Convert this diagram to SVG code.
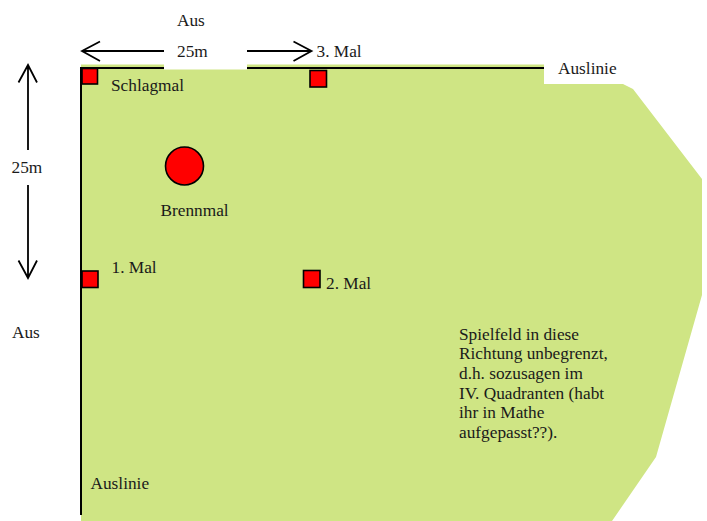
<svg xmlns="http://www.w3.org/2000/svg" width="707" height="521" viewBox="0 0 707 521">
<style>
text{font-family:"Liberation Serif","Times New Roman",serif;font-size:17.3px;fill:#1a1a1a}
.mal{fill:#ff0000;stroke:#000;stroke-width:1.6}
.line{stroke:#000;stroke-width:2;fill:none}
.arr{stroke:#000;stroke-width:1.8;fill:none}
</style>
<rect width="707" height="521" fill="#fff"/>
<g id="field">
<polygon points="81,64.5 544,64.5 544,84 623,84 633,89 702,179 702,295 656,457 612,521 81,521" fill="#cfe584"/>
<line class="line" x1="80" y1="68" x2="544" y2="68"/>
<line class="line" x1="81" y1="67" x2="81" y2="515"/>
<rect x="164" y="38" width="83" height="31.5" fill="#fff"/>
<text x="90.5" y="489">Auslinie</text>
<text x="558" y="74">Auslinie</text>
</g>
<g id="connectors">
<path class="arr" d="M82,51 H164 M247,51 H311.5 M100,41.5 L82,51 L100,61 M293.5,41.5 L311.5,51 L293.5,61"/>
<path class="arr" d="M28,65 V150 M28,185 V278 M18.5,82.5 L28,65 L37,82.5 M18.5,260.5 L28,278 L37,260.5"/>
</g>
<text x="177" y="26">Aus</text>
<text x="177" y="57">25m</text>
<text x="11.5" y="173">25m</text>
<text x="12" y="338">Aus</text>
<g id="schlagmal"><rect class="mal" x="82" y="68.5" width="15.5" height="15.5"/><text x="111" y="91">Schlagmal</text></g>
<g id="mal1"><rect class="mal" x="82" y="271" width="16" height="16.5"/><text x="111.5" y="273">1. Mal</text></g>
<g id="mal2"><rect class="mal" x="303.5" y="270.5" width="16.5" height="17"/><text x="326" y="288.5">2. Mal</text></g>
<g id="mal3"><rect class="mal" x="310" y="70.5" width="16.5" height="16.5"/><text x="316.5" y="57">3. Mal</text></g>
<g id="brennmal"><circle class="mal" cx="184.5" cy="166" r="19"/><text x="160.5" y="216">Brennmal</text></g>
<g id="note">
<text x="459" y="339.5">Spielfeld in diese</text>
<text x="459" y="359.2">Richtung unbegrenzt,</text>
<text x="459" y="378.9">d.h. sozusagen im</text>
<text x="459" y="398.6">IV. Quadranten (habt</text>
<text x="459" y="418.3">ihr in Mathe</text>
<text x="459" y="438">aufgepasst??).</text>
</g>
</svg>
